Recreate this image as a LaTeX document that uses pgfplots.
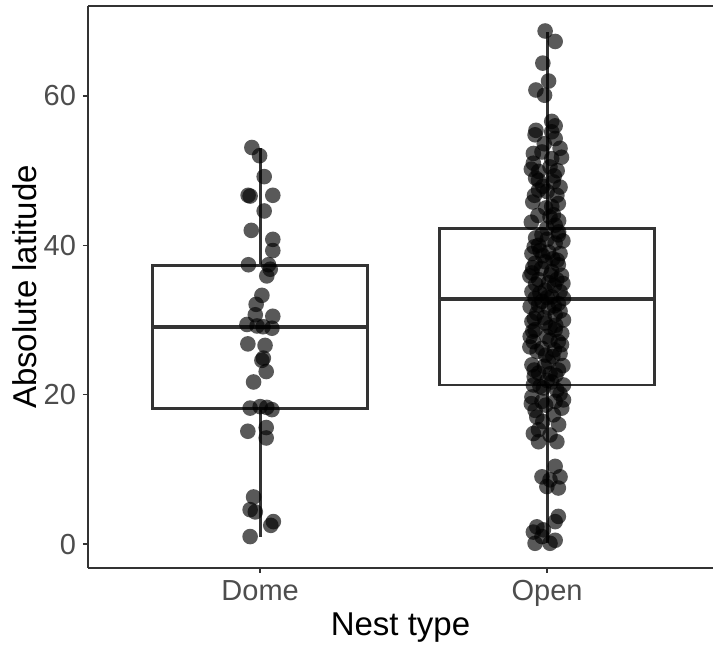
\documentclass[border=0pt]{standalone}
\usepackage{fontspec}
\setmainfont{Liberation Sans}
\usepackage{pgfplots}
\usepackage{pgfplotstable}
\pgfplotsset{compat=1.18}
\usepgfplotslibrary{statistics}
\definecolor{boxc}{HTML}{333333}
\definecolor{tickc}{HTML}{4D4D4D}

\pgfplotstableread{
x y
0.971 53.1
0.998 52.0
1.014 49.2
0.958 46.7
0.965 46.6
1.044 46.7
1.014 44.6
0.969 42.0
1.044 40.8
1.044 39.3
0.959 37.4
1.029 37.4
1.035 36.8
1.023 35.9
1.006 33.3
0.986 32.1
0.983 30.7
1.044 30.5
0.954 29.4
0.989 29.2
1.010 29.1
1.041 28.9
0.957 26.8
1.017 26.6
1.011 24.9
1.006 24.6
1.021 23.1
0.977 21.7
0.965 18.2
1.000 18.4
1.023 18.3
1.041 18.0
0.957 15.1
1.021 15.6
1.021 14.2
0.977 6.3
0.965 4.6
0.983 4.3
1.046 3.0
1.037 2.5
0.965 1.0
}\domepts

\pgfplotstableread{
x y
1.993 68.7
2.028 67.3
1.985 64.4
2.005 62.0
1.961 60.8
1.991 60.1
2.016 56.6
2.028 56.0
1.961 55.4
1.958 54.8
2.016 55.2
2.028 54.3
2.045 53.0
1.990 53.6
1.952 52.3
1.982 52.5
2.016 51.6
1.952 51.0
2.010 50.5
2.035 50.0
1.970 49.9
1.970 48.7
1.960 49.0
2.022 48.5
1.970 47.4
2.000 47.2
1.956 46.7
2.034 46.7
2.039 45.6
2.016 45.2
1.968 44.0
2.022 44.1
2.040 43.3
2.028 42.7
1.999 42.3
1.982 41.4
2.039 41.4
2.040 41.8
1.960 41.0
2.000 40.8
1.970 40.0
2.028 40.3
1.955 39.8
1.947 38.9
2.005 39.1
2.045 38.9
1.985 38.6
2.020 38.2
1.958 37.6
2.039 37.4
1.993 37.8
1.980 36.9
1.947 36.3
2.016 36.5
2.050 36.0
2.012 36.0
1.970 35.4
2.034 35.4
1.960 34.8
2.025 34.6
1.947 33.8
1.993 34.0
2.045 33.8
1.958 32.9
2.016 33.1
2.057 32.9
2.000 33.0
1.982 32.5
2.039 32.2
1.970 32.0
1.941 31.8
2.005 31.6
2.045 31.2
1.964 30.9
2.028 30.7
1.990 30.3
1.947 29.8
2.057 30.0
1.993 29.6
2.030 29.3
1.958 28.7
2.028 28.7
1.950 28.5
2.051 28.2
1.941 27.8
1.999 27.8
2.010 27.3
1.952 27.1
2.039 27.1
2.050 26.7
1.982 26.2
1.965 25.8
2.045 25.5
2.020 25.1
1.947 24.0
2.005 24.4
1.990 23.8
2.039 23.3
1.970 22.9
2.030 22.6
1.955 22.4
2.000 21.9
1.952 21.3
2.016 21.7
2.057 21.3
1.987 20.9
2.034 20.6
1.947 19.7
2.057 19.3
1.982 19.1
2.028 19.1
1.958 17.9
2.051 18.2
2.022 17.3
1.964 17.0
1.970 15.3
1.952 14.8
2.010 14.6
1.970 13.7
2.034 13.7
2.028 10.4
1.982 9.0
2.045 9.0
2.010 8.6
1.999 7.7
2.039 7.5
2.039 3.7
2.028 3.0
1.964 2.3
1.952 1.6
1.987 1.9
1.958 0.1
2.010 0.1
2.028 0.5
1.982 1.0
2.050 51.8
1.945 50.2
2.025 49.3
1.985 47.9
2.045 47.8
1.950 45.8
1.995 45.0
1.945 43.1
2.010 43.8
2.055 40.6
1.975 39.3
2.035 38.0
1.950 37.0
2.005 35.0
1.940 35.9
2.055 34.9
1.975 33.6
2.025 31.9
1.955 30.2
2.010 29.0
1.940 26.4
2.025 26.0
1.995 25.3
1.955 23.3
2.055 23.9
2.010 22.8
1.975 21.1
2.045 20.1
1.995 18.6
1.945 18.8
2.040 16.0
1.985 16.4
}\openpts

\begin{document}
\begin{tikzpicture}
\begin{axis}[
  at={(0,0)}, anchor=south west,
  width=312.5pt, height=281pt, scale only axis,
  xmin=0.4, xmax=2.578, ymin=-3.21, ymax=72.05,
  axis lines=left,
  axis line style={-, line width=0.7pt, color=boxc},
  xtick={1,2}, xticklabels={Dome,Open},
  ytick={0,20,40,60},
  tick align=outside,
  major tick length=2.5pt,
  tick style={line width=0.7pt, color=boxc},
  ticklabel style={font=\fontsize{14.5}{16}\selectfont, text=tickc},
  /pgf/number format/assume math mode=true,
  xlabel={Nest type}, ylabel={Absolute latitude},
  every axis x label/.style={at={(axis description cs:0.5,-0.1068)}, anchor=center, font=\fontsize{16.5}{19}\selectfont, text=black},
  every axis y label/.style={at={(axis description cs:-0.1008,0.5)}, anchor=center, rotate=90, font=\fontsize{16.5}{19}\selectfont, text=black},
  clip mode=individual,
  boxplot/draw direction=y,
  boxplot/every median/.style={line width=2pt},
]
\addplot[draw=boxc, fill=white, line width=1.4pt, mark=none,
  boxplot prepared={median=29.0, upper quartile=37.3, lower quartile=18.2,
    upper whisker=53.1, lower whisker=1.0, draw position=1,
    box extend=0.75, whisker extend=0}] coordinates {};
\addplot[draw=boxc, fill=white, line width=1.4pt, mark=none,
  boxplot prepared={median=32.8, upper quartile=42.3, lower quartile=21.3,
    upper whisker=68.6, lower whisker=0.1, draw position=2,
    box extend=0.75, whisker extend=0}] coordinates {};
\addplot[only marks, mark=*, mark size=3.9pt, draw=none,
  mark options={draw opacity=0, line width=0pt, fill=black, fill opacity=0.65}] table[x=x,y=y] {\domepts};
\addplot[only marks, mark=*, mark size=3.9pt, draw=none,
  mark options={draw opacity=0, line width=0pt, fill=black, fill opacity=0.65}] table[x=x,y=y] {\openpts};
\draw[line width=0.7pt, color=boxc] (rel axis cs:0,1) -- (rel axis cs:1,1);
\end{axis}
\pgfresetboundingbox
\path (-44pt,-39pt) rectangle (312.5pt,284pt);
\end{tikzpicture}
\end{document}
